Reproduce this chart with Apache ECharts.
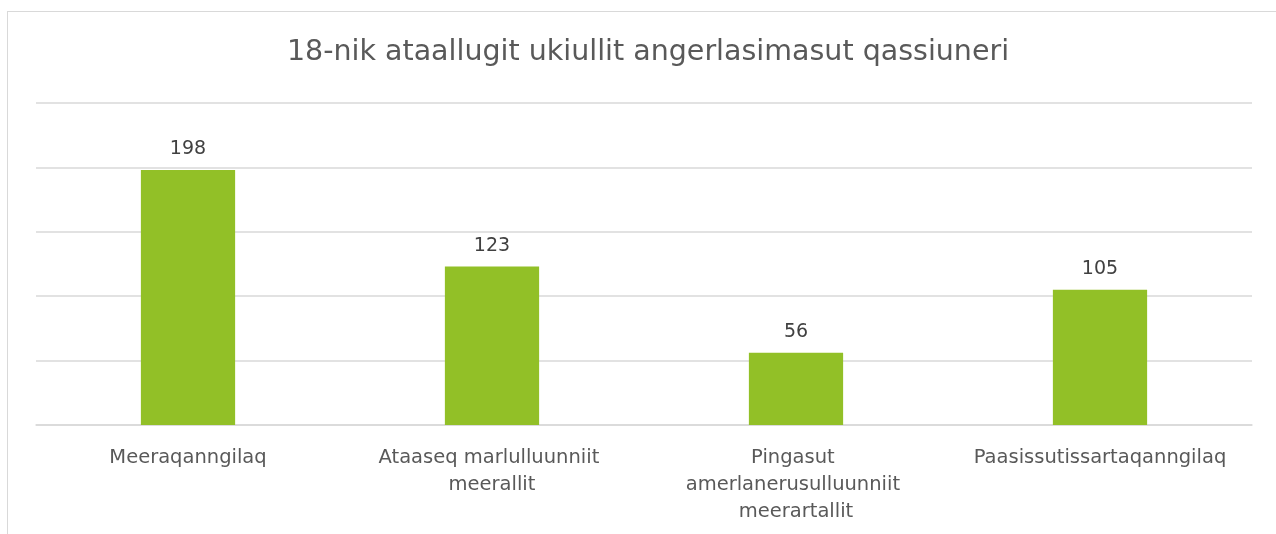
<!DOCTYPE html>
<html>
<head>
<meta charset="utf-8">
<script src="https://cdn.jsdelivr.net/npm/echarts@6/dist/echarts.min.js"></script>
<style>
  html, body { margin: 0; padding: 0; background: #fff; overflow: hidden; }
  .frame {
    position: absolute; left: 7px; top: 11px; width: 1300px; height: 600px;
    border: 1px solid #d9d9d9; box-sizing: border-box;
  }
  #chart { position: absolute; left: 0; top: 0; width: 1276px; height: 534px; }
</style>
</head>
<body>
<div class="frame"></div>
<div id="chart"></div>
<script>
const title = '18-nik ataallugit ukiullit angerlasimasut qassiuneri'
const categories = [
  'Meeraqanngilaq',
  'Ataaseq marlulluunniit meerallit',
  'Pingasut amerlanerusulluunniit meerartallit',
  'Paasissutissartaqanngilaq'
]
const values = [198, 123, 56, 105]

const font = 'DejaVu Sans'
const chart = echarts.init(document.getElementById('chart'))
chart.setOption({
  animation: false,
  title: {
    text: title, left: 643, top: 33, textAlign: 'center',
    textStyle: { fontFamily: font, fontSize: 28.5, fontWeight: 'normal', color: '#595959' }
  },
  grid: { left: 36, right: 24, top: 103, bottom: 109, containLabel: false },
  xAxis: {
    type: 'category', data: categories,
    axisLine: { lineStyle: { color: '#d9d9d9', width: 1.5 } },
    axisTick: { show: false },
    axisLabel: {
      interval: 0, margin: 19, color: '#595959', fontFamily: font, fontSize: 19.5,
      lineHeight: 27, width: 285, overflow: 'break'
    }
  },
  yAxis: {
    type: 'value', min: 0, max: 250, interval: 50,
    axisLabel: { show: false }, axisLine: { show: false }, axisTick: { show: false },
    splitLine: { lineStyle: { color: '#d9d9d9', width: 1.5 } }
  },
  series: [{
    type: 'bar', data: values, barWidth: '31%',
    itemStyle: { color: '#92c027' },
    label: {
      show: true, position: 'top', distance: 11, color: '#404040',
      fontFamily: font, fontSize: 19
    }
  }]
})
</script>
</body>
</html>
